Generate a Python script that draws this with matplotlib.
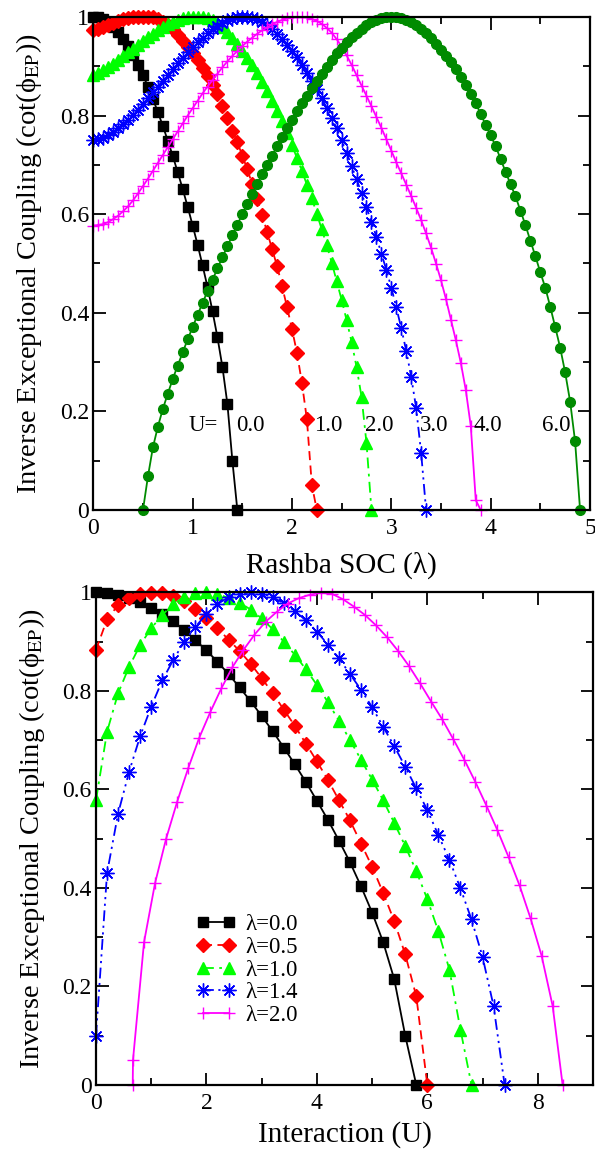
import matplotlib
matplotlib.use('Agg')
import matplotlib.pyplot as plt
from matplotlib.ticker import MultipleLocator, FixedLocator, FixedFormatter

plt.rcParams['font.family'] = ['Liberation Serif', 'DejaVu Serif']
plt.rcParams['mathtext.fontset'] = 'stix'

# ---- top panel: cot(phi_EP) vs Rashba SOC lambda, one curve per U ----
LAM = [0.00, 0.05, 0.10, 0.15, 0.20, 0.25, 0.30, 0.35, 0.40, 0.45,
       0.50, 0.55, 0.60, 0.65, 0.70, 0.75, 0.80, 0.85, 0.90, 0.95,
       1.00, 1.05, 1.10, 1.15, 1.20, 1.25, 1.30, 1.35, 1.40, 1.45,
       1.50, 1.55, 1.60, 1.65, 1.70, 1.75, 1.80, 1.85, 1.90, 1.95,
       2.00, 2.05, 2.10, 2.15, 2.20, 2.25, 2.30, 2.35, 2.40, 2.45,
       2.50, 2.55, 2.60, 2.65, 2.70, 2.75, 2.80, 2.85, 2.90, 2.95,
       3.00, 3.05, 3.10, 3.15, 3.20, 3.25, 3.30, 3.35, 3.40, 3.45,
       3.50, 3.55, 3.60, 3.65, 3.70, 3.75, 3.80, 3.85, 3.90, 3.95,
       4.00, 4.05, 4.10, 4.15, 4.20, 4.25, 4.30, 4.35, 4.40, 4.45,
       4.50, 4.55, 4.60, 4.65, 4.70, 4.75, 4.80, 4.85, 4.90]

cot_u0 = [1.000, 0.999, 0.995, 0.989, 0.980, 0.969, 0.956, 0.941, 0.923, 0.903,
          0.882, 0.859, 0.834, 0.807, 0.779, 0.749, 0.718, 0.685, 0.651, 0.615,
          0.577, 0.538, 0.496, 0.452, 0.403, 0.350, 0.290, 0.215, 0.100, 0.000]

cot_u1 = [0.973, 0.976, 0.980, 0.984, 0.988, 0.992, 0.995, 0.997, 0.999, 1.000,
          1.000, 1.000, 0.999, 0.996, 0.990, 0.983, 0.975, 0.964, 0.952, 0.940,
          0.927, 0.913, 0.897, 0.881, 0.863, 0.843, 0.820, 0.795, 0.769, 0.746,
          0.719, 0.691, 0.661, 0.630, 0.598, 0.564, 0.529, 0.495, 0.454, 0.412,
          0.367, 0.319, 0.258, 0.184, 0.051, 0.000]

cot_u2 = [0.883, 0.887, 0.892, 0.898, 0.905, 0.912, 0.920, 0.928, 0.936, 0.944,
          0.952, 0.959, 0.966, 0.973, 0.979, 0.985, 0.990, 0.994, 0.997, 0.999,
          1.000, 1.000, 1.000, 0.998, 0.994, 0.987, 0.979, 0.969, 0.957, 0.945,
          0.932, 0.917, 0.902, 0.886, 0.868, 0.850, 0.830, 0.810, 0.789, 0.765,
          0.740, 0.714, 0.688, 0.660, 0.632, 0.601, 0.569, 0.537, 0.502, 0.464,
          0.426, 0.385, 0.341, 0.290, 0.230, 0.136, 0.000]

cot_u3 = [0.750, 0.752, 0.755, 0.760, 0.766, 0.774, 0.783, 0.792, 0.802, 0.812,
          0.823, 0.835, 0.847, 0.859, 0.871, 0.883, 0.895, 0.906, 0.917, 0.928,
          0.939, 0.949, 0.958, 0.967, 0.975, 0.982, 0.988, 0.993, 0.996, 0.999,
          1.000, 1.000, 0.998, 0.995, 0.990, 0.983, 0.975, 0.965, 0.955, 0.943,
          0.931, 0.918, 0.903, 0.887, 0.870, 0.853, 0.835, 0.816, 0.796, 0.774,
          0.750, 0.725, 0.698, 0.671, 0.643, 0.614, 0.584, 0.554, 0.520, 0.487,
          0.451, 0.411, 0.369, 0.323, 0.270, 0.207, 0.116, 0.000]

cot_u4 = [0.577, 0.578, 0.580, 0.584, 0.590, 0.597, 0.606, 0.616, 0.628, 0.642,
          0.657, 0.672, 0.688, 0.704, 0.720, 0.736, 0.752, 0.768, 0.784, 0.800,
          0.815, 0.830, 0.845, 0.859, 0.872, 0.885, 0.898, 0.910, 0.921, 0.931,
          0.941, 0.950, 0.958, 0.966, 0.973, 0.979, 0.985, 0.990, 0.994, 0.997,
          0.999, 1.000, 1.000, 0.999, 0.996, 0.992, 0.986, 0.978, 0.968, 0.955,
          0.940, 0.922, 0.903, 0.882, 0.861, 0.840, 0.819, 0.797, 0.775, 0.752,
          0.729, 0.705, 0.683, 0.660, 0.637, 0.613, 0.588, 0.561, 0.532, 0.500,
          0.466, 0.428, 0.386, 0.344, 0.298, 0.243, 0.170, 0.020, 0.000]

# U = 6 starts at lambda = 0.5
cot_u6 = [0.000, 0.068, 0.127, 0.169, 0.205, 0.236, 0.266, 0.293, 0.320, 0.346,
          0.371, 0.396, 0.420, 0.444, 0.467, 0.490, 0.513, 0.535, 0.557, 0.579,
          0.600, 0.621, 0.641, 0.661, 0.681, 0.700, 0.719, 0.738, 0.756, 0.774,
          0.792, 0.809, 0.825, 0.840, 0.855, 0.870, 0.884, 0.898, 0.912, 0.926,
          0.938, 0.949, 0.959, 0.968, 0.976, 0.983, 0.989, 0.994, 0.997, 0.999,
          1.000, 0.999, 0.997, 0.994, 0.990, 0.984, 0.976, 0.967, 0.957, 0.946,
          0.934, 0.921, 0.908, 0.895, 0.879, 0.862, 0.844, 0.825, 0.803, 0.781,
          0.760, 0.738, 0.712, 0.686, 0.661, 0.636, 0.607, 0.578, 0.546, 0.515,
          0.482, 0.451, 0.412, 0.371, 0.329, 0.279, 0.220, 0.139, 0.000]

u_text = ['U=', '0.0', '1.0', '2.0', '3.0', '4.0', '6.0']

# ---- bottom panel: cot(phi_EP) vs interaction U, one curve per lambda ----
UU = [0.0, 0.2, 0.4, 0.6, 0.8, 1.0, 1.2, 1.4, 1.6, 1.8,
      2.0, 2.2, 2.4, 2.6, 2.8, 3.0, 3.2, 3.4, 3.6, 3.8,
      4.0, 4.2, 4.4, 4.6, 4.8, 5.0, 5.2, 5.4, 5.6, 5.8,
      6.0, 6.2, 6.4, 6.6, 6.8, 7.0, 7.2, 7.4]

cot_l00 = [1.000, 0.999, 0.995, 0.989, 0.980, 0.969, 0.956, 0.941, 0.923, 0.903,
           0.882, 0.859, 0.834, 0.807, 0.779, 0.749, 0.718, 0.685, 0.651, 0.615,
           0.577, 0.538, 0.496, 0.452, 0.403, 0.350, 0.290, 0.215, 0.100, 0.000]

cot_l05 = [0.883, 0.945, 0.974, 0.988, 0.996, 0.999, 0.998, 0.993, 0.983, 0.966,
           0.947, 0.927, 0.904, 0.881, 0.855, 0.826, 0.795, 0.762, 0.729, 0.693,
           0.657, 0.619, 0.578, 0.537, 0.490, 0.443, 0.390, 0.333, 0.265, 0.180,
           0.000]

cot_l10 = [0.578, 0.717, 0.795, 0.849, 0.893, 0.927, 0.954, 0.976, 0.991, 0.998,
           1.000, 0.996, 0.989, 0.979, 0.965, 0.947, 0.925, 0.900, 0.873, 0.844,
           0.812, 0.777, 0.739, 0.700, 0.660, 0.620, 0.578, 0.532, 0.485, 0.434,
           0.377, 0.312, 0.234, 0.112, 0.000]

cot_l14 = [0.100, 0.430, 0.551, 0.636, 0.708, 0.768, 0.821, 0.863, 0.900, 0.930,
           0.956, 0.976, 0.990, 0.997, 1.000, 0.997, 0.990, 0.978, 0.962, 0.943,
           0.920, 0.894, 0.866, 0.834, 0.802, 0.767, 0.727, 0.688, 0.646, 0.602,
           0.558, 0.507, 0.457, 0.399, 0.336, 0.260, 0.160, 0.000]

U_l20 = [0.665, 0.67, 0.87, 1.07, 1.27, 1.47, 1.67, 1.87, 2.07, 2.27,
         2.47, 2.67, 2.87, 3.07, 3.27, 3.47, 3.67, 3.87, 4.07, 4.27,
         4.47, 4.67, 4.87, 5.07, 5.27, 5.47, 5.67, 5.87, 6.07, 6.27,
         6.47, 6.67, 6.87, 7.07, 7.27, 7.47, 7.67, 7.87, 8.07, 8.27, 8.45]
cot_l20 = [0.000, 0.051, 0.290, 0.410, 0.500, 0.575, 0.643, 0.705, 0.757, 0.805,
           0.848, 0.883, 0.914, 0.940, 0.960, 0.977, 0.988, 0.995, 0.999, 0.997,
           0.986, 0.971, 0.954, 0.933, 0.909, 0.881, 0.850, 0.815, 0.778, 0.742,
           0.702, 0.660, 0.615, 0.567, 0.517, 0.463, 0.405, 0.338, 0.262, 0.160,
           0.000]

lam_labels = ['λ=0.0', 'λ=0.5', 'λ=1.0', 'λ=1.4', 'λ=2.0']

# styles, shared by both panels (same order)
DKGREEN = '#008b00'
sty = [
    dict(color='black', ls='-', marker='s', ms=7.0),
    dict(color='red', ls=(0, (5, 3)), marker='D', ms=6.8),
    dict(color='#00ff00', ls=(0, (6, 3, 1.5, 3)), marker='^', ms=9.0),
    dict(color='blue', ls=(0, (6, 2.5, 1.2, 2.5, 1.2, 2.5)), marker=(8, 2, 0), ms=10.0, mew=1.0),
    dict(color='#ff00ff', ls='-', marker='+', ms=9.0, mew=1.0),
]
sty_u6 = dict(color=DKGREEN, ls='-', marker='o', ms=7.0)

W, H = 595, 1150
fig = plt.figure(figsize=(W / 100, H / 100), dpi=100)
ax1 = fig.add_axes([93.3 / W, 1 - 510 / H, (590 - 93.3) / W, (510 - 17) / H])
ax2 = fig.add_axes([96 / W, 1 - 1085 / H, (593 - 96) / W, (1085 - 592.3) / H])

top_curves = [cot_u0, cot_u1, cot_u2, cot_u3, cot_u4]
for yv, s in zip(top_curves, sty):
    ax1.plot(LAM[:len(yv)], yv, lw=1.3, clip_on=False, **s)
ax1.plot(LAM[10:10 + len(cot_u6)], cot_u6, lw=1.3, clip_on=False, **sty_u6)

text_x = [0.96, 1.44, 2.22, 2.74, 3.29, 3.83, 4.52]
for tx, t in zip(text_x, u_text):
    ax1.text(tx, 0.172, t, fontsize=16.5, ha='left', va='center')

bot_x = [UU[:len(cot_l00)], UU[:len(cot_l05)], UU[:len(cot_l10)], UU[:len(cot_l14)], U_l20]
bot_y = [cot_l00, cot_l05, cot_l10, cot_l14, cot_l20]
for xv, yv, s, lab in zip(bot_x, bot_y, sty, lam_labels):
    ax2.plot(xv, yv, lw=1.3, clip_on=False, label=lab, **s)

leg = ax2.legend(loc='upper left', bbox_to_anchor=(0.17, 0.38), frameon=False,
                 numpoints=2, fontsize=16.5, handlelength=1.7, handletextpad=0.45,
                 labelspacing=0.08, borderpad=0.2)

ylab = 'Inverse Exceptional Coupling (cot(ϕ$_{\\mathrm{EP}}$))'
for ax in (ax1, ax2):
    ax.set_ylim(0, 1)
    ax.yaxis.set_major_locator(FixedLocator([0, 0.2, 0.4, 0.6, 0.8, 1.0]))
    ax.yaxis.set_major_formatter(FixedFormatter(['0', '0.2', '0.4', '0.6', '0.8', '1']))
    ax.yaxis.set_minor_locator(MultipleLocator(0.1))
    ax.tick_params(which='both', direction='in', top=True, right=True, width=1.3,
                   labelsize=17)
    ax.tick_params(which='major', length=9)
    ax.tick_params(which='minor', length=5)
    ax.tick_params(axis='x', pad=6)
    ax.tick_params(axis='y', pad=3)
    for sp in ax.spines.values():
        sp.set_linewidth(1.6)
    ax.set_ylabel(ylab, fontsize=20.5, labelpad=11)

ax1.set_xlim(0, 5)
ax1.xaxis.set_major_locator(MultipleLocator(1))
ax1.xaxis.set_minor_locator(MultipleLocator(0.5))
ax1.set_xlabel('Rashba SOC (λ)', fontsize=21, labelpad=9)

ax2.set_xlim(0, 9)
ax2.xaxis.set_major_locator(FixedLocator([0, 2, 4, 6, 8]))
ax2.xaxis.set_minor_locator(MultipleLocator(1))
ax2.set_xlabel('Interaction (U)', fontsize=21, labelpad=5)

fig.savefig('out.png', dpi=100)
